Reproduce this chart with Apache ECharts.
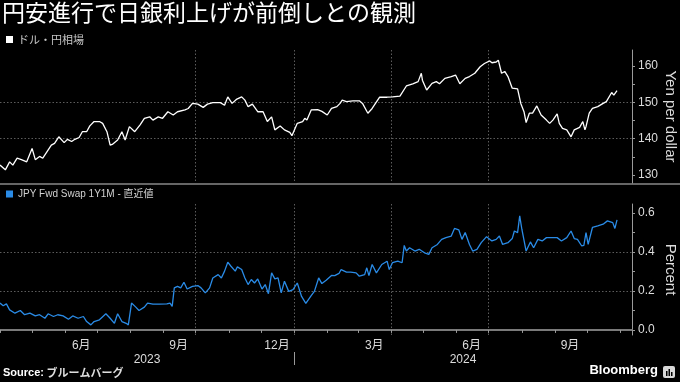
<!DOCTYPE html>
<html><head><meta charset="utf-8">
<script src="https://cdn.jsdelivr.net/npm/echarts@6/dist/echarts.min.js"></script>
<style>html,body{margin:0;padding:0;background:#000;}#c{width:680px;height:382px;}</style>
</head><body><div id="c"></div>
<script>
// ---- data ----
const fxDates = ['2023-04-01','2023-04-06','2023-04-10','2023-04-13','2023-04-17','2023-04-21','2023-04-26','2023-05-01','2023-05-04','2023-05-08','2023-05-11','2023-05-15','2023-05-19','2023-05-22','2023-05-26','2023-05-31','2023-06-03','2023-06-07','2023-06-10','2023-06-14','2023-06-17','2023-06-21','2023-06-24','2023-06-28','2023-07-03','2023-07-06','2023-07-10','2023-07-13','2023-07-15','2023-07-20','2023-07-24','2023-07-27','2023-07-31','2023-08-05','2023-08-10','2023-08-14','2023-08-19','2023-08-22','2023-08-27','2023-08-31','2023-09-05','2023-09-10','2023-09-14','2023-09-21','2023-09-24','2023-09-28','2023-10-03','2023-10-08','2023-10-12','2023-10-17','2023-10-24','2023-10-28','2023-10-31','2023-11-04','2023-11-08','2023-11-13','2023-11-16','2023-11-19','2023-11-23','2023-11-28','2023-12-03','2023-12-07','2023-12-11','2023-12-14','2023-12-19','2023-12-23','2023-12-28','2023-12-30','2024-01-04','2024-01-09','2024-01-11','2024-01-13','2024-01-17','2024-01-23','2024-01-27','2024-02-01','2024-02-05','2024-02-10','2024-02-13','2024-02-15','2024-02-19','2024-02-25','2024-03-02','2024-03-05','2024-03-10','2024-03-14','2024-03-21','2024-03-28','2024-04-02','2024-04-09','2024-04-15','2024-04-21','2024-04-26','2024-04-29','2024-04-30','2024-05-04','2024-05-09','2024-05-13','2024-05-16','2024-05-21','2024-05-27','2024-05-31','2024-06-04','2024-06-09','2024-06-13','2024-06-18','2024-06-23','2024-06-27','2024-07-02','2024-07-04','2024-07-08','2024-07-10','2024-07-13','2024-07-16','2024-07-19','2024-07-23','2024-07-28','2024-07-31','2024-08-03','2024-08-05','2024-08-08','2024-08-11','2024-08-15','2024-08-19','2024-08-24','2024-08-27','2024-08-30','2024-09-03','2024-09-05','2024-09-08','2024-09-12','2024-09-16','2024-09-19','2024-09-24','2024-09-27','2024-09-29','2024-09-30','2024-10-03','2024-10-06','2024-10-11','2024-10-16','2024-10-19','2024-10-24','2024-10-26','2024-10-29'];
const fxValues = [132.7,131.4,133.6,132.7,134.6,134.2,133.6,137.3,134.2,135.1,134.6,136.4,138.2,138.7,140.5,138.9,139.8,139.2,139.8,140.3,141.9,141.9,143.5,144.7,144.7,144.2,141.9,138.2,138.4,139.6,141.9,139.6,143.3,141.9,143.8,145.6,146.0,145.1,146.0,145.6,147.4,146.5,147.4,147.9,148.3,149.7,149.5,148.6,149.5,149.9,149.9,149.2,151.5,149.7,150.8,151.5,150.6,148.8,149.5,147.4,147.4,144.7,146.0,142.4,143.5,142.4,141.7,140.8,144.2,144.7,145.6,145.1,147.9,148.0,147.5,146.5,148.3,148.8,149.7,150.6,150.2,150.4,150.4,149.7,147.0,148.3,151.4,151.4,151.5,151.7,154.5,155.1,155.7,158.0,156.1,153.4,155.2,155.7,155.1,156.6,157.1,157.5,155.1,156.6,157.1,158.0,159.8,160.7,161.4,160.9,161.1,161.6,158.0,158.5,157.1,153.9,153.7,149.7,147.4,144.4,147.0,147.0,149.0,146.5,145.1,144.2,145.1,146.8,144.2,142.8,142.4,140.5,142.4,143.1,144.7,142.4,143.3,147.0,148.3,148.8,149.7,150.2,152.7,152.0,153.2];

const swapDates = ['2023-04-01','2023-04-04','2023-04-07','2023-04-10','2023-04-15','2023-04-20','2023-04-24','2023-04-29','2023-05-04','2023-05-08','2023-05-13','2023-05-16','2023-05-21','2023-05-25','2023-05-30','2023-06-04','2023-06-08','2023-06-13','2023-06-18','2023-06-21','2023-06-25','2023-06-28','2023-07-03','2023-07-09','2023-07-13','2023-07-17','2023-07-20','2023-07-24','2023-07-28','2023-07-30','2023-08-02','2023-08-06','2023-08-09','2023-08-14','2023-08-17','2023-08-22','2023-08-28','2023-09-04','2023-09-07','2023-09-09','2023-09-11','2023-09-14','2023-09-17','2023-09-20','2023-09-23','2023-09-28','2023-10-03','2023-10-06','2023-10-10','2023-10-14','2023-10-17','2023-10-22','2023-10-25','2023-10-28','2023-10-31','2023-11-03','2023-11-07','2023-11-09','2023-11-13','2023-11-16','2023-11-19','2023-11-22','2023-11-25','2023-11-28','2023-12-02','2023-12-05','2023-12-08','2023-12-11','2023-12-14','2023-12-17','2023-12-20','2023-12-23','2023-12-27','2023-12-31','2024-01-04','2024-01-08','2024-01-12','2024-01-17','2024-01-20','2024-01-24','2024-01-27','2024-01-31','2024-02-05','2024-02-08','2024-02-12','2024-02-14','2024-02-19','2024-02-23','2024-02-28','2024-03-02','2024-03-07','2024-03-09','2024-03-11','2024-03-14','2024-03-18','2024-03-23','2024-03-28','2024-03-30','2024-04-02','2024-04-07','2024-04-11','2024-04-13','2024-04-15','2024-04-18','2024-04-23','2024-04-27','2024-05-02','2024-05-06','2024-05-09','2024-05-14','2024-05-18','2024-05-22','2024-05-27','2024-05-30','2024-06-03','2024-06-06','2024-06-09','2024-06-13','2024-06-16','2024-06-20','2024-06-24','2024-06-29','2024-07-04','2024-07-08','2024-07-11','2024-07-14','2024-07-19','2024-07-23','2024-07-25','2024-07-28','2024-07-30','2024-08-01','2024-08-05','2024-08-09','2024-08-12','2024-08-16','2024-08-20','2024-08-24','2024-08-29','2024-09-03','2024-09-07','2024-09-12','2024-09-16','2024-09-19','2024-09-22','2024-09-26','2024-09-28','2024-09-30','2024-10-02','2024-10-06','2024-10-11','2024-10-16','2024-10-20','2024-10-25','2024-10-27','2024-10-29'];
const swapValues = [0.138,0.124,0.134,0.103,0.086,0.100,0.078,0.086,0.072,0.078,0.060,0.083,0.069,0.078,0.072,0.055,0.072,0.060,0.069,0.043,0.026,0.043,0.052,0.083,0.060,0.034,0.083,0.043,0.034,0.026,0.138,0.117,0.100,0.117,0.138,0.133,0.133,0.134,0.138,0.121,0.216,0.224,0.216,0.245,0.210,0.224,0.228,0.216,0.190,0.216,0.267,0.284,0.267,0.302,0.348,0.327,0.302,0.324,0.310,0.267,0.233,0.259,0.241,0.262,0.210,0.233,0.186,0.293,0.262,0.267,0.190,0.250,0.198,0.207,0.241,0.172,0.136,0.176,0.198,0.267,0.238,0.255,0.280,0.279,0.290,0.310,0.297,0.297,0.293,0.276,0.284,0.319,0.279,0.336,0.293,0.336,0.353,0.310,0.345,0.353,0.345,0.434,0.405,0.422,0.405,0.414,0.396,0.388,0.422,0.439,0.465,0.474,0.482,0.521,0.514,0.465,0.500,0.439,0.405,0.414,0.448,0.479,0.457,0.465,0.482,0.439,0.448,0.469,0.508,0.500,0.586,0.517,0.405,0.452,0.422,0.465,0.457,0.474,0.474,0.474,0.457,0.474,0.508,0.469,0.465,0.431,0.434,0.500,0.439,0.526,0.534,0.543,0.560,0.551,0.521,0.565];

const fxTicks = [130, 140, 150, 160];
const fxMinorTicks = [130, 135, 140, 145, 150, 155, 160];
const swapTicks = [0, 0.2, 0.4, 0.6];
const swapMinorTicks = [0, 0.1, 0.2, 0.3, 0.4, 0.5, 0.6];
const monthStarts = ['2023-04-01','2023-05-01','2023-06-01','2023-07-01','2023-08-01','2023-09-01','2023-10-01','2023-11-01','2023-12-01','2024-01-01','2024-02-01','2024-03-01','2024-04-01','2024-05-01','2024-06-01','2024-07-01','2024-08-01','2024-09-01','2024-10-01','2024-11-01'];
const quarterStarts = ['2023-07-01','2023-10-01','2024-01-01','2024-04-01','2024-07-01','2024-10-01'];
const monthLabelDates = ['2023-06-16','2023-09-15','2023-12-16','2024-03-16','2024-06-15','2024-09-15'];
const yearStarts = ['2024-01-01'];
const xMin = '2023-04-01', xMax = '2024-11-12';
const fxRange = [127.77, 164.41];
const swapRange = [-0.026, 0.6466];

// ---- helpers ----
function ts(s){ const p = s.split('-').map(Number); return new Date(p[0], p[1]-1, p[2]).getTime(); }
const minTs = ts(xMin), maxTs = ts(xMax);
const yearMid = [];
(function(){
  const bounds = [minTs].concat(yearStarts.map(ts)).concat([maxTs]);
  for (let i=0;i<bounds.length-1;i++) yearMid.push((bounds[i]+bounds[i+1])/2);
})();

const latin = 'Liberation Sans, Noto Sans CJK JP, sans-serif';
const gridLine = {show:true, lineStyle:{color:'#5c5c5c', type:[1.5,2], width:1}, showMinLine:false, showMaxLine:false};
const labelColor = '#dcdcdc';
const axisGrey = '#9a9a9a';

const chart = echarts.init(document.getElementById('c'), null, {renderer:'canvas'});
chart.setOption({
  backgroundColor:'#000',
  animation:false,
  title:[
    {text:'円安進行で日銀利上げが前倒しとの観測', left:2, top:1, padding:0,
     textStyle:{color:'#fff', fontSize:23, fontWeight:'normal', fontFamily:'Noto Sans CJK JP'}},
    {text:'{b|Source:} ブルームバーグ', left:3, top:367, padding:0,
     textStyle:{color:'#ddd', fontSize:11, fontFamily:'Noto Sans CJK JP',
       rich:{b:{fontWeight:'bold', color:'#fff', fontSize:11, fontFamily:'Liberation Sans'}}}},
    {text:'Bloomberg', right:22, top:364, padding:0,
     textStyle:{color:'#fff', fontSize:13, fontWeight:'bold', fontFamily:'Liberation Sans'}}
  ],
  legend:[
    {data:['ドル・円相場'], left:6, top:34, padding:0, icon:'rect', itemWidth:7, itemHeight:7, selectedMode:false,
     textStyle:{color:'#c8c8c8', fontSize:11, fontFamily:'Noto Sans CJK JP'}},
    {data:['JPY Fwd Swap 1Y1M - 直近値'], left:6, top:189, padding:0, icon:'rect', itemWidth:7, itemHeight:7, selectedMode:false,
     textStyle:{color:'#d0d0d0', fontSize:10, fontFamily:latin}}
  ],
  grid:[
    {left:0, right:48, top:50, height:133, containLabel:false, outerBoundsMode:'none'},
    {left:0, right:48, top:204, height:131, containLabel:false, outerBoundsMode:'none'}
  ],
  xAxis:[
    {gridIndex:0, type:'value', min:minTs, max:maxTs, axisLine:{show:false},
     axisTick:{show:false, customValues:quarterStarts.map(ts)}, axisLabel:{show:false}, splitLine:gridLine},
    {gridIndex:1, type:'value', min:minTs, max:maxTs, axisLine:{show:false},
     axisTick:{show:false, customValues:quarterStarts.map(ts)}, axisLabel:{show:false}, splitLine:gridLine},
    {gridIndex:1, type:'value', min:minTs, max:maxTs, position:'bottom',
     axisLine:{show:true, lineStyle:{color:'#7a7a7a', width:2}},
     axisTick:{show:true, customValues:monthStarts.map(ts), length:3, lineStyle:{color:axisGrey}},
     axisLabel:{show:true, customValues:monthLabelDates.map(ts), margin:5, color:labelColor, fontSize:12, fontFamily:latin,
       formatter:function(v){ return (new Date(v).getMonth()+1) + '月'; }},
     splitLine:{show:false}},
    {gridIndex:1, type:'value', min:minTs, max:maxTs, position:'bottom', offset:17,
     axisLine:{show:false},
     axisTick:{show:true, customValues:yearStarts.map(ts), length:13, lineStyle:{color:axisGrey}},
     axisLabel:{show:true, customValues:yearMid, margin:2, color:labelColor, fontSize:12, fontFamily:latin,
       formatter:function(v){ return String(new Date(v).getFullYear()); }},
     splitLine:{show:false}}
  ],
  yAxis:[
    {gridIndex:0, type:'value', position:'right', min:fxRange[0], max:fxRange[1],
     axisLine:{show:true, lineStyle:{color:axisGrey}},
     axisTick:{show:false, customValues:fxTicks},
     axisLabel:{customValues:fxTicks, color:labelColor, fontSize:12, margin:6, fontFamily:latin},
     splitLine:gridLine,
     name:'Yen per dollar', nameLocation:'middle', nameRotate:-90, nameGap:31, nameMoveOverlap:false,
     nameTextStyle:{color:labelColor, fontSize:15, fontFamily:latin}},
    {gridIndex:0, type:'value', position:'right', min:fxRange[0], max:fxRange[1],
     axisLine:{show:false}, axisTick:{show:true, customValues:fxMinorTicks, length:3, lineStyle:{color:axisGrey}},
     axisLabel:{show:false}, splitLine:{show:false}},
    {gridIndex:1, type:'value', position:'right', min:swapRange[0], max:swapRange[1],
     axisLine:{show:true, lineStyle:{color:axisGrey}},
     axisTick:{show:false, customValues:swapTicks},
     axisLabel:{customValues:swapTicks, color:labelColor, fontSize:12, margin:6, fontFamily:latin,
       formatter:function(v){ return v.toFixed(1); }},
     splitLine:gridLine,
     name:'Percent', nameLocation:'middle', nameRotate:-90, nameGap:31, nameMoveOverlap:false,
     nameTextStyle:{color:labelColor, fontSize:15, fontFamily:latin}},
    {gridIndex:1, type:'value', position:'right', min:swapRange[0], max:swapRange[1],
     axisLine:{show:false}, axisTick:{show:true, customValues:swapMinorTicks, length:3, lineStyle:{color:axisGrey}},
     axisLabel:{show:false}, splitLine:{show:false}}
  ],
  graphic:[
    {type:'line', shape:{x1:0, y1:184, x2:680, y2:184}, style:{stroke:'#666', lineWidth:2}, silent:true},
    {type:'group', left:663, top:366, children:[
      {type:'rect', shape:{x:0, y:0, width:12, height:12, r:2}, style:{fill:'#d8d8d8'}},
      {type:'rect', shape:{x:3, y:5, width:1.5, height:5}, style:{fill:'#000'}},
      {type:'rect', shape:{x:5.5, y:3, width:1.5, height:7}, style:{fill:'#000'}},
      {type:'rect', shape:{x:8, y:6, width:1.5, height:4}, style:{fill:'#000'}}
    ]}
  ],
  series:[
    {type:'line', name:'ドル・円相場', xAxisIndex:0, yAxisIndex:0, showSymbol:false, symbol:'none',
     data:fxDates.map(function(d,i){ return [ts(d), fxValues[i]]; }),
     lineStyle:{color:'#ffffff', width:1.3}, itemStyle:{color:'#ffffff'}},
    {type:'line', name:'JPY Fwd Swap 1Y1M - 直近値', xAxisIndex:2, yAxisIndex:2, showSymbol:false, symbol:'none',
     data:swapDates.map(function(d,i){ return [ts(d), swapValues[i]]; }),
     lineStyle:{color:'#2a8be6', width:1.3}, itemStyle:{color:'#2a8be6'}}
  ]
});
</script></body></html>
